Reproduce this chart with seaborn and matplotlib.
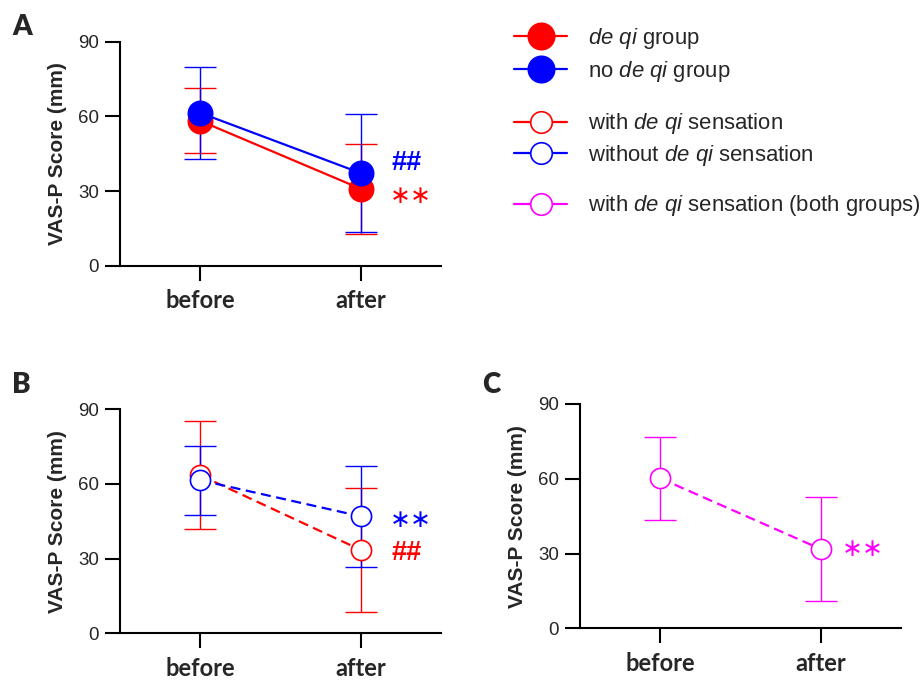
import numpy as np
import pandas as pd
import matplotlib
matplotlib.use("Agg")
import matplotlib.pyplot as plt
from matplotlib.lines import Line2D
import seaborn as sns

# time points
times = ["before", "after"]

# panel A: de qi group vs no de qi group (mean and SD, mm)
a_deqi_mean = [58.2, 30.9]
a_deqi_sd = [13.0, 18.0]
a_nodeqi_mean = [61.4, 37.2]
a_nodeqi_sd = [18.4, 23.7]

# panel B: with / without de qi sensation
b_with_mean = [63.5, 33.5]
b_with_sd = [21.7, 25.0]
b_without_mean = [61.5, 47.0]
b_without_sd = [13.9, 20.3]

# panel C: with de qi sensation, both groups
c_both_mean = [60.2, 31.8]
c_both_sd = [16.7, 20.7]

# significance marks: (text, y value, colour)
a_marks = [("##", 41.4, "blue"), ("∗∗", 28.5, "red")]
b_marks = [("∗∗", 46.1, "blue"), ("##", 32.4, "red")]
c_marks = [("∗∗", 32.2, "magenta")]

yticks = [0, 30, 60, 90]

sns.set_style("ticks")
plt.rcParams["font.family"] = ["Liberation Sans", "DejaVu Sans"]
plt.rcParams["mathtext.fontset"] = "custom"
plt.rcParams["mathtext.it"] = "Liberation Sans:italic"
plt.rcParams["mathtext.rm"] = "Liberation Sans"

fig = plt.figure(figsize=(9.21, 6.82), dpi=100)
axA = fig.add_axes([120 / 921, 1 - 265.7 / 682, 321 / 921, 224 / 682])
axB = fig.add_axes([120 / 921, 1 - 633.3 / 682, 321 / 921, 224 / 682])
axC = fig.add_axes([580 / 921, 1 - 628.3 / 682, 321 / 921, 224.3 / 682])


def draw_series(ax, mean, sd, color, filled, dashed):
    df = pd.DataFrame({"x": np.arange(len(times)), "score": mean})
    ax.errorbar(df["x"], df["score"], yerr=sd, fmt="none", ecolor=color,
                elinewidth=1.0, capsize=11.5, capthick=1.0, zorder=2)
    sns.lineplot(data=df, x="x", y="score", ax=ax, color=color, linewidth=1.6,
                 linestyle=(0, (4.5, 2.5)) if dashed else "-",
                 marker="o", markersize=17.5 if filled else 14.5,
                 markerfacecolor=color if filled else "white",
                 markeredgecolor=color, markeredgewidth=1.2, zorder=3)


def style_axis(ax, marks, mark_x):
    ax.set_xlim(-0.5, 1.5)
    ax.set_ylim(0, 90)
    ax.set_yticks(yticks)
    ax.set_xticks(range(len(times)))
    ax.set_xticklabels(times, fontfamily="Lato", fontweight="bold", fontsize=17)
    ax.tick_params(axis="y", labelsize=13.5, length=11, width=1.5, pad=4, color="black")
    ax.tick_params(axis="x", length=11, width=1.5, pad=6, color="black")
    ax.set_xlabel("")
    ax.set_ylabel("VAS-P Score (mm)", fontsize=15, fontweight="bold", labelpad=8)
    for s in ["left", "bottom"]:
        ax.spines[s].set_linewidth(1.5)
        ax.spines[s].set_color("black")
    sns.despine(ax=ax)
    for txt, yv, col in marks:
        if "#" in txt:
            ax.annotate(txt, xy=(mark_x, yv), xytext=(0, 0), textcoords="offset points",
                        ha="left", va="center", color=col, fontsize=19.5, fontweight="bold")
        else:
            ax.annotate(txt, xy=(mark_x, yv), xytext=(-1, -1), textcoords="offset points",
                        ha="left", va="center", color=col, fontsize=18,
                        fontfamily="DejaVu Sans")


draw_series(axA, a_deqi_mean, a_deqi_sd, "red", True, False)
draw_series(axA, a_nodeqi_mean, a_nodeqi_sd, "blue", True, False)
style_axis(axA, a_marks, 1.19)

draw_series(axB, b_with_mean, b_with_sd, "red", False, True)
draw_series(axB, b_without_mean, b_without_sd, "blue", False, True)
style_axis(axB, b_marks, 1.19)

draw_series(axC, c_both_mean, c_both_sd, "magenta", False, True)
style_axis(axC, c_marks, 1.14)

# panel letters
for letter, x, y in [("A", 12, 35), ("B", 12, 393), ("C", 482, 393)]:
    fig.text(x / 921, 1 - y / 682, letter, fontfamily="Lato", fontweight="heavy",
             fontsize=20, ha="left", va="baseline")

# legends
def handle(color, filled, size):
    return Line2D([], [], color=color, linewidth=1.6, marker="o", markersize=size,
                  markerfacecolor=color if filled else "white",
                  markeredgecolor=color, markeredgewidth=1.2)

legend_groups = [
    ([handle("red", True, 19), handle("blue", True, 19)],
     [r"$\mathit{de\ qi}$ group", r"no $\mathit{de\ qi}$ group"], 55, 0.35),
    ([handle("red", False, 15.5), handle("blue", False, 15.5)],
     [r"with $\mathit{de\ qi}$ sensation", r"without $\mathit{de\ qi}$ sensation"], 139.5, 0.28),
    ([handle("magenta", False, 15.5)],
     [r"with $\mathit{de\ qi}$ sensation (both groups)"], 206, 0.3),
]
for hs, labs, yc, sp in legend_groups:
    fig.legend(hs, labs, loc="center left", bbox_to_anchor=(514 / 921, 1 - yc / 682),
               frameon=False, borderpad=0, borderaxespad=0, handlelength=2.4,
               handletextpad=0.95, labelspacing=sp, fontsize=15.9)

fig.savefig("out.png", dpi=100)
